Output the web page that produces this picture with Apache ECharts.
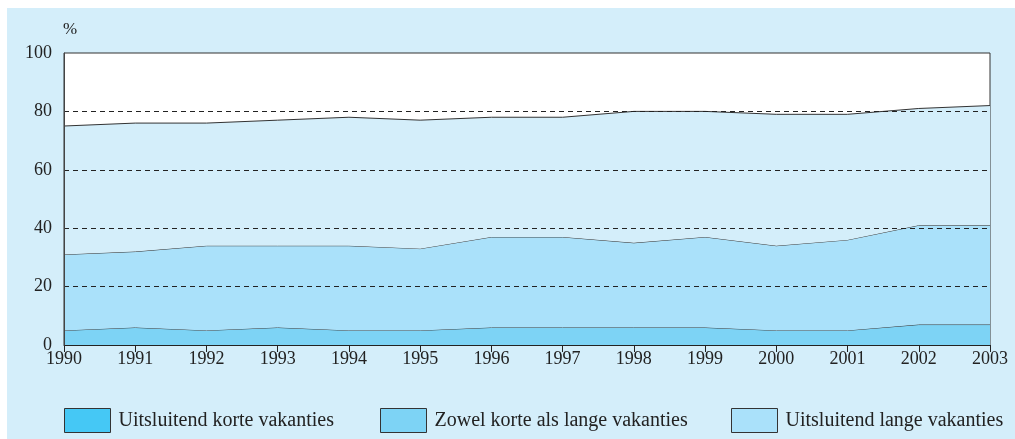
<!DOCTYPE html>
<html><head><meta charset="utf-8">
<script src="https://cdn.jsdelivr.net/npm/echarts@6/dist/echarts.min.js"></script>
<style>html,body{margin:0;padding:0;background:#fff}#c{width:1015px;height:439px}</style>
</head><body><div id="c"></div>
<script>
var years = ['1990','1991','1992','1993','1994','1995','1996','1997','1998','1999','2000','2001','2002','2003'];
var korte = [5,6,5,6,5,5,6,6,6,6,5,5,7,7];
var zowel = [26,26,29,28,29,28,31,31,29,31,29,31,34,34];
var lange = [44,44,42,43,44,44,41,41,45,43,45,43,40,41];
var names = ['Uitsluitend korte vakanties','Zowel korte als lange vakanties','Uitsluitend lange vakanties'];
var yTicks = [0,20,40,60,80,100];
var gridValues = [20,40,60,80];

var font = 'Liberation Serif';
var fills = ['#7dd3f5','#aae1fa','#d4eefa'];
var legendFills = ['#45c8f5','#7dd3f5','#aae1fa'];
var legendLeft = [64,380,731];
var chart = echarts.init(document.getElementById('c'));
function ser(name, data, i){
  var s = {name:name, type:'line', stack:'t', data:data, symbol:'none',
    lineStyle:{color:'#333', width:1}, itemStyle:{color:legendFills[i]},
    areaStyle:{color:fills[i], opacity:1}, z:2+i};
  if (i === 2) {
    s.markLine = {silent:true, symbol:'none', label:{show:false},
      lineStyle:{color:'#222', type:[5,4], width:1},
      data:gridValues.map(function(v){return {yAxis:v};})};
  }
  return s;
}
var legends = names.map(function(n,i){
  return {left:legendLeft[i], top:408, padding:0, itemWidth:46, itemHeight:24, icon:'rect',
    textStyle:{fontFamily:font, fontSize:20, color:'#222', padding:[3,0,0,3]},
    data:[{name:n, itemStyle:{color:legendFills[i], borderColor:'#333', borderWidth:1}}]};
});
chart.setOption({
  animation:false,
  graphic:[{type:'rect', shape:{x:7,y:8,width:1008,height:431}, style:{fill:'#d4eefa'}, z:-10, silent:true},
           {type:'text', left:63, top:21, style:{text:'%', font:'17px "'+font+'"', fill:'#222'}}],
  grid:{left:64, right:25, top:53, bottom:94, show:true, backgroundColor:'#fff', borderColor:'#333', borderWidth:1},
  legend:legends,
  xAxis:{type:'category', data:years, boundaryGap:false,
    axisLine:{lineStyle:{color:'#222', width:1}}, axisTick:{show:true, length:7, lineStyle:{color:'#222'}},
    axisLabel:{fontFamily:font, fontSize:18, color:'#222', margin:5}},
  yAxis:{type:'value', min:0, max:100, interval:20, z:10,
    axisLine:{show:true, lineStyle:{color:'#444'}}, axisTick:{show:false},
    axisLabel:{fontFamily:font, fontSize:18, color:'#222', margin:12,
      formatter:function(v){return yTicks.indexOf(v)>=0? String(v):'';}},
    splitLine:{show:false}},
  series:[ser(names[0],korte,0), ser(names[1],zowel,1), ser(names[2],lange,2)]
});
</script></body></html>
